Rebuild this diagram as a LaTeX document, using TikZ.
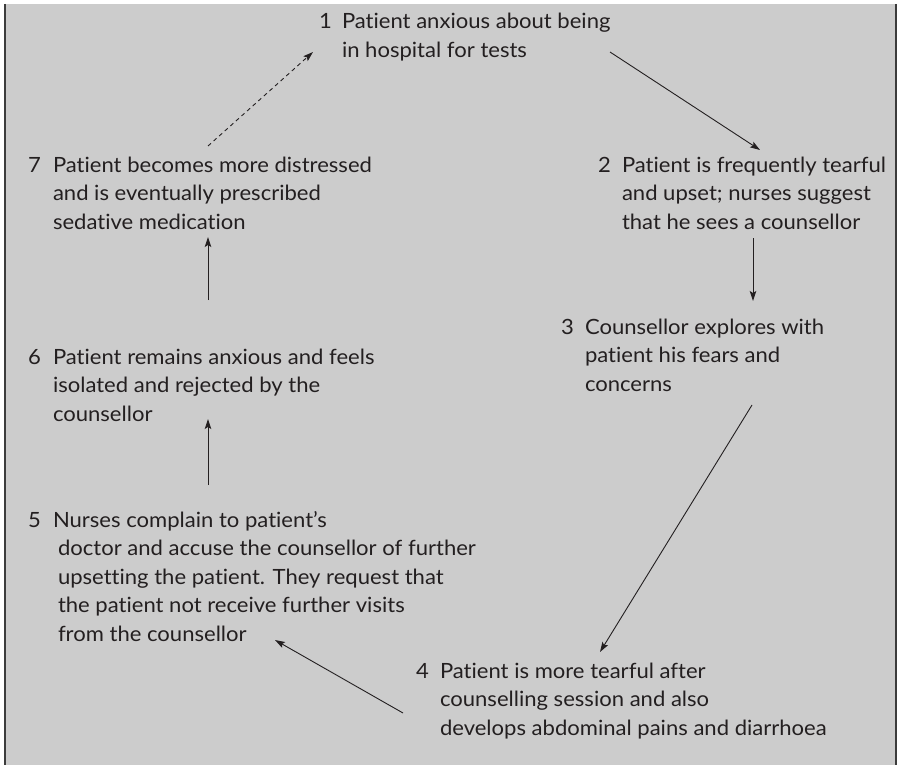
\documentclass[tikz,border=0pt]{standalone}
\usepackage{fontspec}
\setmainfont[Ligatures=CommonOff, FakeStretch=1.05]{Lato}
\usetikzlibrary{arrows.meta}
\definecolor{panel}{HTML}{CCCCCC}
\definecolor{ink}{HTML}{231F20}
\definecolor{rule}{HTML}{3C3C3C}
% a step's text, with the first line's baseline as the node's base
\newcommand\steptext[1]{\vtop{\halign{##\hfil\cr#1\crcr}}}
\begin{document}
\begin{tikzpicture}[x=1pt,y=-1pt,
  every node/.style={inner sep=0pt, outer sep=0pt, text=ink,
    font=\fontsize{21}{28.5}\selectfont},
  num/.style={anchor=base west},
  txt/.style={anchor=base west},
  link/.style={draw=ink, line width=0.9pt,
    -{Stealth[length=10pt,width=6.5pt,inset=2pt]}},
  dashlink/.style={link, dash pattern=on 4pt off 3.5pt}]
\useasboundingbox (0,0) rectangle (897,765);
% panel and its side rules
\fill[panel] (4,4) rectangle (897,765);
\draw[rule, line width=2pt] (5,4) -- (5,765);
\draw[rule, line width=1.3pt] (896,4) -- (896,765);

% numbered steps
\node[num] (n1) at (319,29) {1};
\node[txt] (t1) at (342,29) {\steptext{Patient anxious about being\cr in hospital for tests}};

\node[num] (n2) at (598,172) {2};
\node[txt] (t2) at (622,172) {\steptext{Patient is frequently tearful\cr and upset; nurses suggest\cr that he sees a counsellor}};

\node[num] (n3) at (561,334) {3};
\node[txt] (t3) at (585,334) {\steptext{Counsellor explores with\cr patient his fears and\cr concerns}};

\node[num] (n4) at (416,678) {4};
\node[txt] (t4) at (440,678) {\steptext{Patient is more tearful after\cr counselling session and also\cr develops abdominal pains and diarrhoea}};

\node[num] (n5) at (28,527) {5};
\node[txt] (t5) at (53,527) {\steptext{Nurses complain to patient’s\cr \hspace*{5pt}doctor and accuse the counsellor of further\cr \hspace*{5pt}upsetting the patient. They request that\cr \hspace*{5pt}the patient not receive further visits\cr \hspace*{5pt}from the counsellor}};

\node[num] (n6) at (28,364) {6};
\node[txt] (t6) at (53,364) {\steptext{Patient remains anxious and feels\cr isolated and rejected by the\cr counsellor}};

\node[num] (n7) at (28,172) {7};
\node[txt] (t7) at (53,172) {\steptext{Patient becomes more distressed\cr and is eventually prescribed\cr sedative medication}};

% arrow ends
\coordinate (c1out) at (610,52);
\coordinate (c2in) at (760,150);
\coordinate (c2out) at (753,238);
\coordinate (c3in) at (753,301);
\coordinate (c3out) at (752,405);
\coordinate (c4in) at (600,652);
\coordinate (c4out) at (403,713);
\coordinate (c5in) at (275,640);
\coordinate (c5out) at (208,485);
\coordinate (c6in) at (208,419);
\coordinate (c6out) at (208,300);
\coordinate (c7in) at (208,237);
\coordinate (c7out) at (208,146);
\coordinate (c1in) at (313,52);

\draw[link] (c1out) -- (c2in);
\draw[link] (c2out) -- (c3in);
\draw[link] (c3out) -- (c4in);
\draw[link] (c4out) -- (c5in);
\draw[link] (c5out) -- (c6in);
\draw[link] (c6out) -- (c7in);
\draw[dashlink] (c7out) -- (c1in);
\end{tikzpicture}
\end{document}
